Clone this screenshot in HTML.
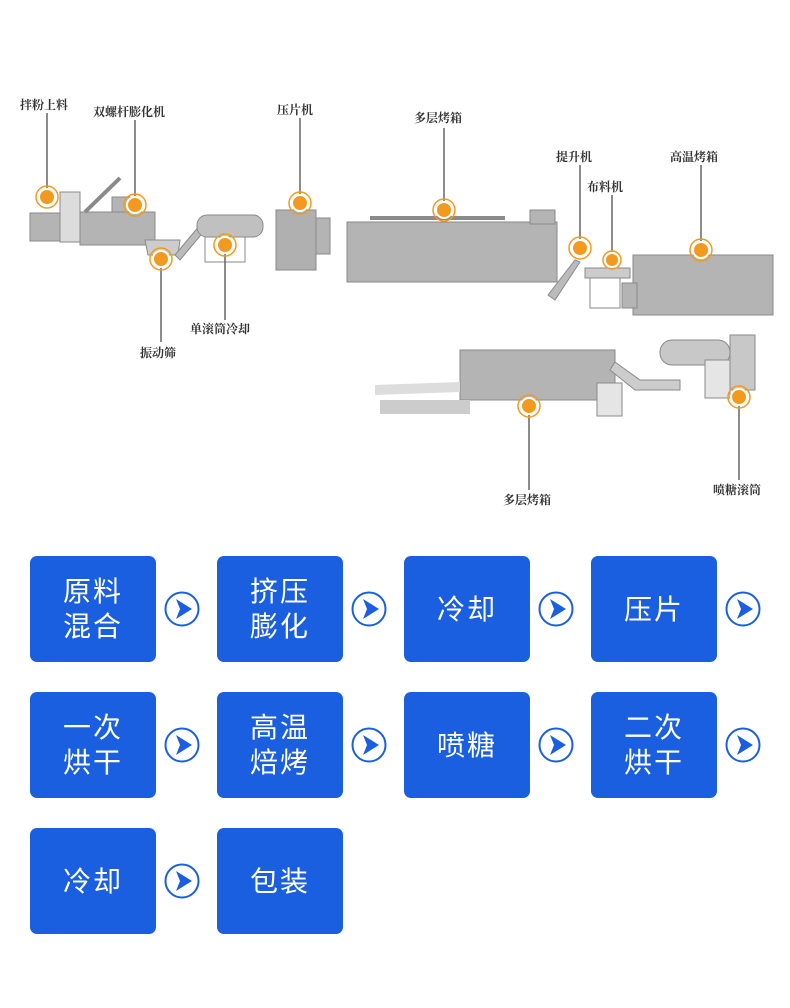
<!DOCTYPE html>
<html><head><meta charset="utf-8"><style>
body{margin:0;width:790px;height:1008px;background:#fff;position:relative;overflow:hidden;font-family:"Liberation Sans","Noto Sans CJK SC",sans-serif}
.b{position:absolute;width:126px;height:106px;background:#1a5fe0;border-radius:7px;color:#fff;font-size:28px;line-height:35px;display:flex;align-items:center;justify-content:center;text-align:center;letter-spacing:2px}
.c{position:absolute;width:36px;height:36px}
</style></head><body>
<svg width="0" height="0" style="position:absolute"><defs><symbol id="ar" viewBox="0 0 36 36"><circle cx="18" cy="18" r="16.5" fill="none" stroke="#1a5fe0" stroke-width="2"/><polygon points="12,8 28,18 12,28 16,18" fill="#1a5fe0"/></symbol></defs></svg>
<svg width="790" height="520" style="position:absolute;left:0;top:0" font-family="Noto Serif CJK SC,serif" font-size="12" font-weight="bold" fill="#333">
<g fill="#b4b4b4" stroke="#8a8a8a" stroke-width="1">
<rect x="30" y="213" width="30" height="28"/><rect x="60" y="192" width="20" height="50" fill="#dcdcdc"/>
<polygon points="80,212 155,212 155,245 80,245"/><line x1="85" y1="212" x2="120" y2="178" stroke-width="4"/>
<rect x="112" y="197" width="18" height="15"/>
<polygon points="145,240 180,240 178,255 148,255" fill="#ccc"/>
<polygon points="175,255 200,225 205,230 180,260" fill="#bbb"/>
<rect x="197" y="215" width="66" height="22" rx="10" fill="#c0c0c0"/>
<rect x="205" y="237" width="40" height="25" fill="none"/>
<rect x="276" y="210" width="40" height="60" fill="#b0b0b0"/><rect x="316" y="218" width="14" height="36"/>
<rect x="347" y="222" width="210" height="60"/><line x1="370" y1="218" x2="505" y2="218" stroke-width="4"/>
<rect x="530" y="210" width="25" height="14"/>
<polygon points="548,295 575,260 580,262 555,300" fill="#bbb"/>
<rect x="585" y="268" width="45" height="10" fill="#ccc"/><rect x="590" y="278" width="30" height="30" fill="none"/>
<rect x="633" y="255" width="140" height="60"/><rect x="622" y="283" width="15" height="25"/>
<rect x="460" y="350" width="155" height="50"/>
<polygon points="375,385 460,382 460,392 375,395" fill="#ddd" stroke="none"/>
<rect x="380" y="400" width="90" height="14" fill="#ccc" stroke="none"/>
<rect x="597" y="383" width="25" height="33" fill="#e5e5e5"/>
<polygon points="615,362 640,380 680,380 680,390 635,390 610,370" fill="#ccc"/>
<rect x="660" y="340" width="70" height="25" rx="12" fill="#c8c8c8"/>
<rect x="705" y="360" width="25" height="38" fill="#e5e5e5"/><rect x="730" y="335" width="25" height="55" fill="#c8c8c8"/>
</g>
<g stroke="#666" stroke-width="1.5">
<line x1="47" y1="113" x2="47" y2="190"/><line x1="135" y1="120" x2="135" y2="198"/>
<line x1="161" y1="266" x2="161" y2="342"/><line x1="225" y1="252" x2="225" y2="320"/>
<line x1="300" y1="118" x2="300" y2="196"/><line x1="444" y1="128" x2="444" y2="203"/>
<line x1="580" y1="165" x2="580" y2="241"/><line x1="612" y1="195" x2="612" y2="253"/>
<line x1="701" y1="165" x2="701" y2="243"/><line x1="529" y1="413" x2="529" y2="490"/>
<line x1="739" y1="404" x2="739" y2="480"/>
</g>
<g fill="#f29a1f" stroke="#fff" stroke-width="2">
<circle cx="47" cy="197" r="8"/><circle cx="135" cy="205" r="8"/><circle cx="161" cy="259" r="8"/>
<circle cx="225" cy="245" r="8"/><circle cx="300" cy="203" r="8"/><circle cx="444" cy="210" r="8"/>
<circle cx="580" cy="248" r="8"/><circle cx="612" cy="260" r="7"/><circle cx="701" cy="250" r="8"/>
<circle cx="529" cy="406" r="8"/><circle cx="739" cy="397" r="8"/>
</g>
<g fill="none" stroke="#f29a1f" stroke-width="1.5">
<circle cx="47" cy="197" r="11"/><circle cx="135" cy="205" r="11"/><circle cx="161" cy="259" r="11"/>
<circle cx="225" cy="245" r="11"/><circle cx="300" cy="203" r="11"/><circle cx="444" cy="210" r="11"/>
<circle cx="580" cy="248" r="11"/><circle cx="612" cy="260" r="9"/><circle cx="701" cy="250" r="11"/>
<circle cx="529" cy="406" r="11"/><circle cx="739" cy="397" r="11"/>
</g>
<text x="20" y="109">拌粉上料</text><text x="93" y="116">双螺杆膨化机</text>
<text x="140" y="357">振动筛</text><text x="190" y="333">单滚筒冷却</text>
<text x="277" y="114">压片机</text><text x="414" y="122">多层烤箱</text>
<text x="556" y="161">提升机</text><text x="587" y="191">布料机</text>
<text x="670" y="161">高温烤箱</text><text x="503" y="504">多层烤箱</text><text x="713" y="494">喷糖滚筒</text>
</svg>
<div class="b" style="left:30px;top:556px">原料<br>混合</div><svg class="c" style="left:164px;top:591px"><use href="#ar"/></svg>
<div class="b" style="left:217px;top:556px">挤压<br>膨化</div><svg class="c" style="left:351px;top:591px"><use href="#ar"/></svg>
<div class="b" style="left:404px;top:556px">冷却</div><svg class="c" style="left:538px;top:591px"><use href="#ar"/></svg>
<div class="b" style="left:591px;top:556px">压片</div><svg class="c" style="left:725px;top:591px"><use href="#ar"/></svg>
<div class="b" style="left:30px;top:692px">一次<br>烘干</div><svg class="c" style="left:164px;top:727px"><use href="#ar"/></svg>
<div class="b" style="left:217px;top:692px">高温<br>焙烤</div><svg class="c" style="left:351px;top:727px"><use href="#ar"/></svg>
<div class="b" style="left:404px;top:692px">喷糖</div><svg class="c" style="left:538px;top:727px"><use href="#ar"/></svg>
<div class="b" style="left:591px;top:692px">二次<br>烘干</div><svg class="c" style="left:725px;top:727px"><use href="#ar"/></svg>
<div class="b" style="left:30px;top:828px">冷却</div><svg class="c" style="left:164px;top:863px"><use href="#ar"/></svg>
<div class="b" style="left:217px;top:828px">包装</div>
</body></html>
